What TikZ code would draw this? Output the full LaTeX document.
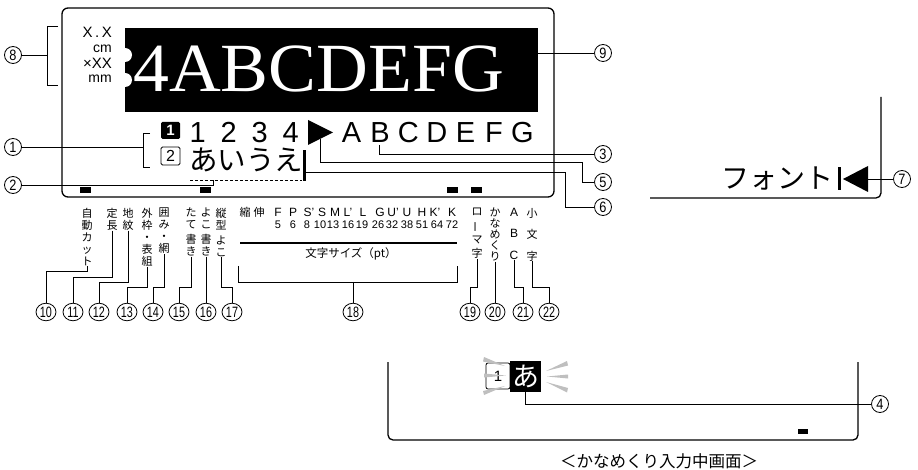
\documentclass[tikz,border=0pt]{standalone}
\usepackage{fontspec}
\usetikzlibrary{shapes.geometric}
\newfontfamily\jp{Noto Sans CJK JP}
\newfontfamily\lsans{Liberation Sans}
\newfontfamily\lserif{Liberation Serif}
\newcommand\fs[1]{\fontsize{#1}{#1}\selectfont}
\newcommand\mb[2]{\makebox[#1pt]{#2}}
\newcommand\hz[1]{\makebox[0pt]{\scalebox{0.72}[1]{#1}}}
\newcommand\hs[1]{\makebox[0pt]{\scalebox{0.85}[1]{#1}}}
\begin{document}
\begin{tikzpicture}[x=1pt,y=-1pt]
\tikzset{
 cn/.style={circle,draw,line width=0.8pt,minimum size=17pt,inner sep=0pt,font=\lsans\fs{15}},
 cnn/.style={ellipse,draw,line width=0.8pt,minimum width=20pt,minimum height=17.5pt,inner sep=0pt,font=\lsans\fs{15}},
 lead/.style={line width=0.8pt},
 frame/.style={line width=1.3pt,rounded corners=6pt},
 vl/.style={font=\jp\fontsize{11}{12}\selectfont,align=center,inner sep=0pt,anchor=north},
 lat/.style={font=\lsans\fs{12},inner sep=0pt},
 num/.style={font=\lsans\fs{11},inner sep=0pt},
 ray/.style={fill=gray!50},
}
\useasboundingbox (0,0) rectangle (918,470);

% ---------- main display ----------
\draw[frame] (62,8) rectangle (554,197);
\fill (125,28) rectangle (538,112);
\fill[white] (125,55) circle (7);
\fill[white] (125,80) circle (7);
\node[anchor=base west,inner sep=0pt,text=white,font=\lserif\fs{69}] (big) at (133,92) {\scalebox{1.04}[1]{4ABCDEFG}};

\node[font=\lsans\fs{15},anchor=base east,inner sep=0pt] (xx1) at (112,38) {X\,.\,X};
\node[font=\lsans\fs{14},anchor=base east,inner sep=0pt] (cm) at (112,53) {cm};
\node[font=\lsans\fs{15},anchor=base east,inner sep=0pt] (xx2) at (112,69) {×XX};
\node[font=\lsans\fs{14},anchor=base east,inner sep=0pt] (mm) at (112,83) {mm};

% row 1
\node[fill=black,text=white,minimum width=19pt,minimum height=17pt,inner sep=0pt,rounded corners=1.5pt,font=\lsans\bfseries\fs{15}] (sq1) at (170.5,130.5) {1};
\node[anchor=base west,inner sep=0pt,font=\lsans\fs{29}] (digits) at (182,143) {\mb{31}{1}\mb{31}{2}\mb{31}{3}\mb{31}{4}};
\fill (308,120) -- (333,132.5) -- (308,145) -- cycle;
\coordinate (tri) at (320,139);
\node[anchor=base west,inner sep=0pt,font=\lsans\fs{29}] (abc) at (337,143) {\mb{28.5}{A}\mb{28.5}{B}\mb{28.5}{C}\mb{28.5}{D}\mb{28.5}{E}\mb{28.5}{F}\mb{28.5}{G}};
\coordinate (bB) at (379,145);

% row 2
\node[draw,line width=0.8pt,rounded corners=1.5pt,minimum width=19pt,minimum height=18pt,inner sep=0pt,font=\lsans\fs{16}] (sq2) at (170.5,156) {2};
\node[anchor=base west,inner sep=0pt,font=\jp\fs{28.5}] (aiue) at (189,171) {あいうえ};
\fill (302.5,150) rectangle (305.5,181);
\coordinate (cur) at (305.5,172);
\draw[line width=0.9pt,dash pattern=on 3pt off 2pt] (190,180) -- (302,180);
\coordinate (dsh) at (213,180);

% indicator bars
\fill (80,187) rectangle (91,193);
\fill (200,187) rectangle (211,193);
\fill (447,187) rectangle (458,193);
\fill (471,187) rectangle (482,193);

% callouts left
\node[cn] (c8) at (13,55) {\hs{8}};
\draw[lead] (58,26) -- (47,26) -- (47,85) -- (58,85);
\draw[lead] (c8) -- (47,55);
\node[cn] (c1) at (13,147) {\hs{1}};
\draw[lead] (150,133) -- (143,133) -- (143,167) -- (150,167);
\draw[lead] (c1) -- (143,147);
\node[cn] (c2) at (13,185) {\hs{2}};
\draw[lead] (c2) -- (213,185) -- (dsh);

% callouts right
\node[cn] (c9) at (603,53) {\hs{9}};
\draw[lead] (538,53) -- (c9);
\node[cn] (c3) at (603,154) {\hs{3}};
\draw[lead] (bB) |- (c3);
\node[cn] (c5) at (603,182) {\hs{5}};
\draw[lead] (tri) -- (320,162) -- (582,162) |- (c5);
\node[cn] (c6) at (603,207) {\hs{6}};
\draw[lead] (cur) -- (565,172) |- (c6);

% ---------- right panel ----------
\draw[line width=1.3pt,rounded corners=5pt] (881,97) -- (881,198) -- (650,198);
\node[anchor=east,inner sep=0pt,font=\jp\fs{28}] (fnt) at (834,179) {フォント};
\fill (838,167) rectangle (841,190);
\fill (843,179) -- (868,166) -- (868,192) -- cycle;
\coordinate (ltri) at (868,179);
\node[cn] (c7) at (902,179) {\hs{7}};
\draw[lead] (ltri) -- (c7);

% ---------- bottom panel ----------
\draw[line width=1.3pt,rounded corners=5pt] (388,362) -- (388,440) -- (858,440) -- (858,362);
\fill (798,429) rectangle (808,434);
\node[draw,line width=0.8pt,rounded corners=2pt,minimum width=24pt,minimum height=26pt,inner sep=0pt,font=\lsans\fs{15}] (k1) at (498,376) {1};
\node[fill=black,text=white,minimum size=31pt,inner sep=0pt,font=\jp\fs{27}] (ka) at (525.5,376.5) {あ};
\fill[ray] (546,371) -- (567,361) -- (568,365.5) -- cycle;
\fill[ray] (547,376.5) -- (568,374.5) -- (568,378.5) -- cycle;
\fill[ray] (546,382) -- (568,388) -- (567,392.5) -- cycle;
\fill[ray] (505,366) -- (484,357) -- (483,361.5) -- cycle;
\fill[ray] (506,375.5) -- (484,373.5) -- (484,377.5) -- cycle;
\fill[ray] (505,386) -- (483,391) -- (484,395) -- cycle;
\node[cn] (c4) at (880,404) {\hs{4}};
\draw[lead] (ka.south) |- (c4);
\node[font=\jp\fs{16.5}] (cap) at (659,461) {＜かなめくり入力中画面＞};

% ---------- bottom labels ----------
\node[vl] (l10) at (87,208) {自\\動\\カ\\ッ\\ト};
\node[vl] (l11) at (112,208) {定\\長};
\node[vl] (l12) at (128,208) {地\\紋};
\node[vl] (l13) at (147,208) {外\\枠\\・\\表\\組};
\node[vl] (l14) at (164,208) {囲\\み\\・\\網};
\node[vl] (l15) at (191,208) {た\\て\\[3pt]書\\き};
\node[vl] (l16) at (206,208) {よ\\こ\\[3pt]書\\き};
\node[vl] (l17) at (221,208) {縦\\型\\[3pt]よ\\こ};
\node[font=\jp\fs{11},inner sep=0pt] (shu) at (245,212) {縮};
\node[font=\jp\fs{11},inner sep=0pt] (shin) at (259,212) {伸};
\foreach \x/\t [count=\i] in {278/F,293/P,309/S’,322/S,335/M,348/L’,363/L,380/G,393/U’,407/U,422/H,435/K’,452/K}
  \node[lat] (f\i) at (\x,212) {\t};
\foreach \x/\t [count=\i] in {278/5,293/6,307/8,320/10,333/13,348/16,362/19,378/26,392/32,407/38,422/51,437/64,452/72}
  \node[num] (n\i) at (\x,225) {\t};
\draw[line width=2pt] (240,243) -- (457,243);
\node[font=\jp\fs{11.5},inner sep=0pt] (ts) at (351,254) {文字サイズ（pt）};
\node[vl] (l19) at (477,208) {ロ\\[2pt]\rotatebox[origin=c]{90}{ー}\\[2pt]マ\\[2pt]字};
\node[vl,font=\jp\fontsize{11}{11}\selectfont] (l20) at (495,208) {か\\な\\め\\く\\り};
\node[vl,font=\lsans\fontsize{12}{12}\selectfont] (l21) at (514,208) {A\\[9.5pt]B\\[9.5pt]C};
\node[vl] (l22) at (532,208) {小\\[9.5pt]文\\[9.5pt]字};

% bottom circled numbers
\node[cnn] (c10) at (46,312) {\hz{10}};
\node[cnn] (c11) at (73,312) {\hz{11}};
\node[cnn] (c12) at (99,312) {\hz{12}};
\node[cnn] (c13) at (127,312) {\hz{13}};
\node[cnn] (c14) at (153,312) {\hz{14}};
\node[cnn] (c15) at (179,312) {\hz{15}};
\node[cnn] (c16) at (206,312) {\hz{16}};
\node[cnn] (c17) at (232,312) {\hz{17}};
\node[cnn] (c18) at (353,312) {\hz{18}};
\node[cnn] (c19) at (470,312) {\hz{19}};
\node[cnn] (c20) at (495,312) {\hz{20}};
\node[cnn] (c21) at (523,312) {\hz{21}};
\node[cnn] (c22) at (549,312) {\hz{22}};

\draw[lead] (l10.south) |- (46,271) -- (c10);
\draw[lead] (l11.south) |- (73,277) -- (c11);
\draw[lead] (l12.south) |- (99,282) -- (c12);
\draw[lead] (l13.south) |- (127,287) -- (c13);
\draw[lead] (l14.south) |- (153,287) -- (c14);
\draw[lead] (l15.south) |- (179,287) -- (c15);
\draw[lead] (l16.south) -- (c16);
\draw[lead] (l17.south) |- (232,287) -- (c17);
\draw[lead] (238,266) -- (238,282) -- (457,282) -- (457,266);
\coordinate (b18) at (353,282);
\draw[lead] (b18) -- (c18);
\draw[lead] (l19.south) |- (470,287) -- (c19);
\draw[lead] (l20.south) -- (c20);
\draw[lead] (l21.south) |- (523,287) -- (c21);
\draw[lead] (l22.south) |- (549,287) -- (c22);
\end{tikzpicture}
\end{document}
